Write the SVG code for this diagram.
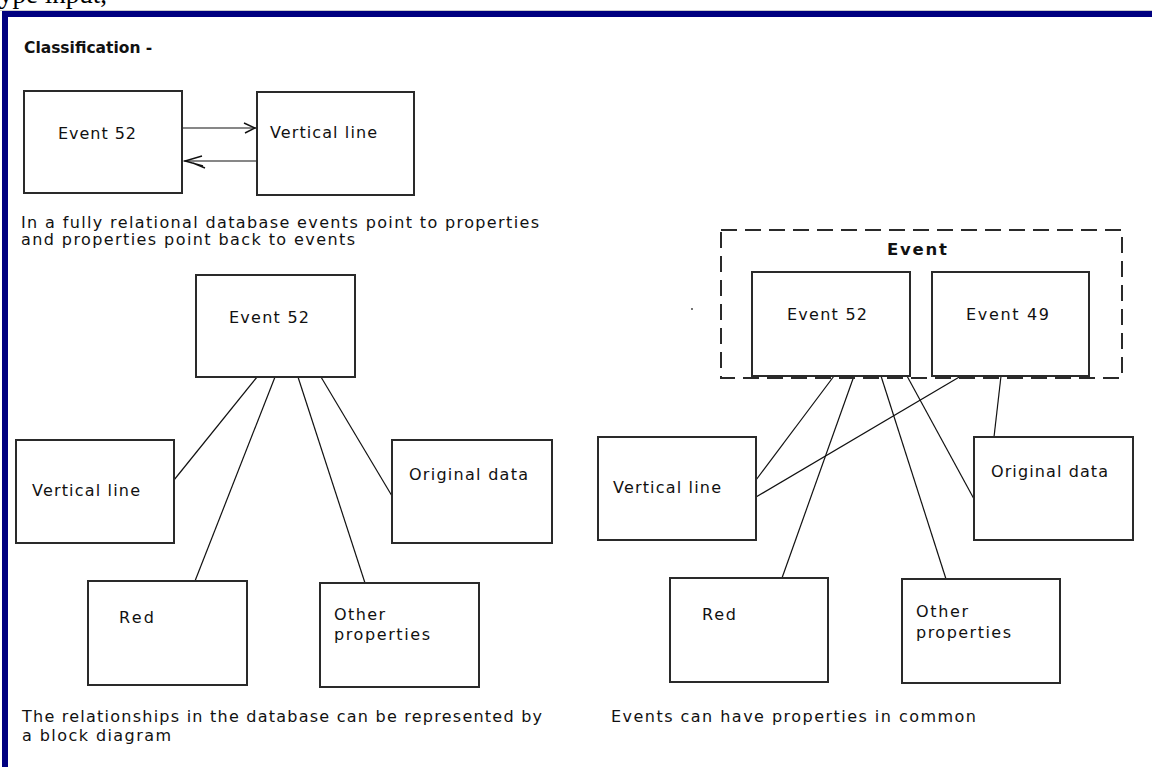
<svg xmlns="http://www.w3.org/2000/svg" width="1152" height="767" viewBox="0 0 1152 767">
<defs>
<style>
.t{font-family:"DejaVu Sans",Verdana,sans-serif;font-size:16px;fill:#111}
.b{font-family:"DejaVu Sans",Verdana,sans-serif;font-size:15.5px;font-weight:bold;fill:#111}
.box{fill:#fff;stroke:#2a2a2a;stroke-width:2}
.ln{stroke:#111;stroke-width:1.2;fill:none}
.dash{fill:none;stroke:#2a2a2a;stroke-width:2;stroke-dasharray:16 8}
.ah{fill:none;stroke:#111;stroke-width:1.4}
</style>
</defs>
<rect width="1152" height="767" fill="#fff"/>
<text x="-1" y="3" style="font-family:'Liberation Serif',serif;font-size:27px;fill:#000">ype input,</text>
<line x1="0" y1="10.5" x2="1152" y2="10.5" stroke="#ccc" stroke-width="1"/>
<path d="M5,767 V14 H1152" fill="none" stroke="#000080" stroke-width="6"/>
<text class="b" x="24" y="53">Classification -</text>

<g id="connectors">
<line class="ln" x1="182" y1="128" x2="256" y2="128"/>
<path class="ah" d="M244,123 L255,128 L245,133"/>
<line class="ln" x1="257" y1="161" x2="184" y2="161"/>
<path class="ah" d="M202,156 L185,161 L203,166 M193,163 L205,168"/>
<line class="ln" x1="257" y1="377" x2="174" y2="480"/>
<line class="ln" x1="275" y1="377" x2="195" y2="581"/>
<line class="ln" x1="298" y1="377" x2="365" y2="583"/>
<line class="ln" x1="321" y1="377" x2="392" y2="496"/>
<line class="ln" x1="834" y1="376" x2="756" y2="480"/>
<line class="ln" x1="854" y1="376" x2="782" y2="578"/>
<line class="ln" x1="881" y1="376" x2="946" y2="579"/>
<line class="ln" x1="907" y1="376" x2="974" y2="499"/>
<line class="ln" x1="961" y1="376" x2="756" y2="497"/>
<line class="ln" x1="1001" y1="376" x2="994" y2="437"/>
</g>

<g id="n-event52-top"><rect class="box" x="24" y="91" width="158" height="102"/><text class="t" x="58" y="139" textLength="78">Event 52</text></g>
<g id="n-vline-top"><rect class="box" x="257" y="92" width="157" height="103"/><text class="t" x="270" y="138" textLength="107">Vertical line</text></g>
<text class="t" x="21" y="228" textLength="518">In a fully relational database events point to properties</text>
<text class="t" x="21" y="245" textLength="334">and properties point back to events</text>

<g id="n-event52-l"><rect class="box" x="196" y="275" width="159" height="102"/><text class="t" x="229" y="323" textLength="80">Event 52</text></g>
<g id="n-vline-l"><rect class="box" x="16" y="440" width="158" height="103"/><text class="t" x="32" y="496" textLength="108">Vertical line</text></g>
<g id="n-orig-l"><rect class="box" x="392" y="440" width="160" height="103"/><text class="t" x="409" y="480" textLength="119">Original data</text></g>
<g id="n-red-l"><rect class="box" x="88" y="581" width="159" height="104"/><text class="t" x="119" y="623" textLength="35">Red</text></g>
<g id="n-other-l"><rect class="box" x="320" y="583" width="159" height="104"/><text class="t" x="334" y="620" textLength="51">Other</text><text class="t" x="334" y="640" textLength="96">properties</text></g>
<text class="t" x="22" y="722" textLength="520">The relationships in the database can be represented by</text>
<text class="t" x="22" y="741" textLength="149">a block diagram</text>

<g id="g-event">
<rect class="dash" x="721" y="230" width="401" height="148"/>
<text class="b" x="887" y="255" textLength="60" style="font-size:16.5px">Event</text>
</g>
<circle cx="692" cy="309" r="0.9" fill="#333"/>
<g id="n-event52-r"><rect class="box" x="752" y="272" width="158" height="104"/><text class="t" x="787" y="320" textLength="80">Event 52</text></g>
<g id="n-event49-r"><rect class="box" x="932" y="272" width="157" height="104"/><text class="t" x="966" y="320" textLength="83">Event 49</text></g>
<g id="n-vline-r"><rect class="box" x="598" y="437" width="158" height="103"/><text class="t" x="613" y="493" textLength="108">Vertical line</text></g>
<g id="n-orig-r"><rect class="box" x="974" y="437" width="159" height="103"/><text class="t" x="991" y="477" textLength="117">Original data</text></g>
<g id="n-red-r"><rect class="box" x="670" y="578" width="158" height="104"/><text class="t" x="702" y="620" textLength="34">Red</text></g>
<g id="n-other-r"><rect class="box" x="902" y="579" width="158" height="104"/><text class="t" x="916" y="617" textLength="52">Other</text><text class="t" x="916" y="638" textLength="95">properties</text></g>
<text class="t" x="611" y="722" textLength="365">Events can have properties in common</text>
</svg>
